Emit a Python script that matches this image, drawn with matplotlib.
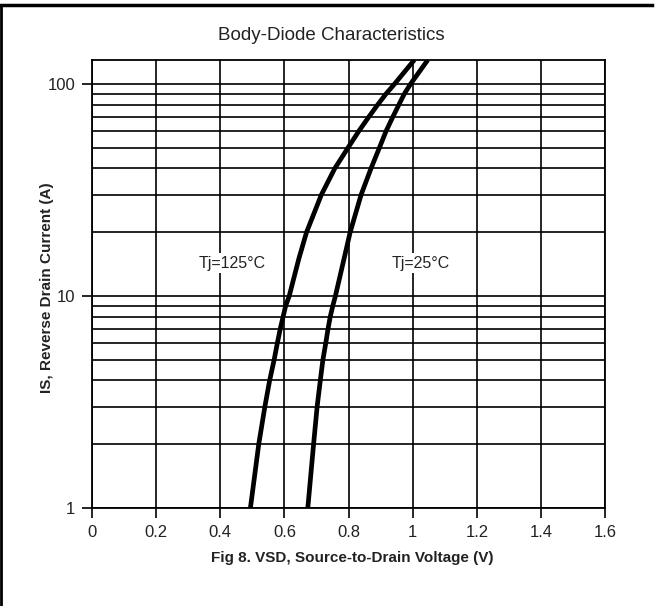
import matplotlib
matplotlib.use("Agg")
import matplotlib.pyplot as plt
from matplotlib.lines import Line2D
from matplotlib.ticker import FixedLocator, NullFormatter

FONT = ["Liberation Sans Narrow", "Liberation Sans", "DejaVu Sans"]
plt.rcParams["font.family"] = FONT

# IS values (A) read at the grid lines
i_grid = [1, 2, 3, 4, 5, 6, 7, 8, 9, 10, 15, 20, 30, 40, 50, 60, 70, 80, 90,
          100, 130]

# Tj = 125 C curve, VSD (V) at each IS
v_125 = [0.494, 0.520, 0.539, 0.554, 0.568, 0.578, 0.587, 0.596, 0.604, 0.615,
         0.645, 0.669, 0.715, 0.757, 0.798, 0.832, 0.863, 0.891, 0.917, 0.943,
         1.005]

# Tj = 25 C curve
v_25 = [0.673, 0.691, 0.702, 0.712, 0.720, 0.729, 0.736, 0.743, 0.751, 0.759,
        0.786, 0.805, 0.839, 0.870, 0.896, 0.917, 0.938, 0.957, 0.974, 0.993,
        1.047]

x_ticks = [0, 0.2, 0.4, 0.6, 0.8, 1.0, 1.2, 1.4, 1.6]
x_labels = ["0", "0.2", "0.4", "0.6", "0.8", "1", "1.2", "1.4", "1.6"]
y_ticks = [1, 10, 100]
y_labels = ["1", "10", "100"]
y_minor = [2, 3, 4, 5, 6, 7, 8, 9, 20, 30, 40, 50, 60, 70, 80, 90]

TXT = "#222222"

fig = plt.figure(figsize=(6.57, 6.06), dpi=100, facecolor="white")
ax = fig.add_axes([0.140, 0.1617, 0.781, 0.7393])

ax.set_yscale("log")
ax.set_xlim(0, 1.6)
ax.set_ylim(1, 130)

ax.plot(v_125, i_grid, color="black", linewidth=3.4, solid_joinstyle="round",
        solid_capstyle="butt", zorder=3)
ax.plot(v_25, i_grid, color="black", linewidth=3.4, solid_joinstyle="round",
        solid_capstyle="butt", zorder=3)

ax.set_xticks(x_ticks)
ax.set_xticklabels(x_labels)
ax.yaxis.set_major_locator(FixedLocator(y_ticks))
ax.set_yticklabels(y_labels)
ax.yaxis.set_minor_locator(FixedLocator(y_minor))
ax.yaxis.set_minor_formatter(NullFormatter())

ax.tick_params(which="major", direction="out", length=7, width=1.2,
               labelsize=12, labelcolor=TXT, pad=5)
ax.tick_params(axis="y", which="minor", length=0)
ax.grid(which="both", color="black", linewidth=1.2)
ax.set_axisbelow(True)
for spine in ax.spines.values():
    spine.set_linewidth(1.3)
    spine.set_color("black")

ax.text(0.436, 14.3, "Tj=125°C", fontsize=11.5, color=TXT, ha="center",
        va="center", bbox=dict(facecolor="white", edgecolor="none", pad=2),
        zorder=4)
ax.text(1.026, 14.3, "Tj=25°C", fontsize=11.5, color=TXT, ha="center",
        va="center", bbox=dict(facecolor="white", edgecolor="none", pad=2),
        zorder=4)

fig.text(0.504, 0.942, "Body-Diode Characteristics", fontsize=13.5,
         color=TXT, ha="center", va="center")
fig.text(0.536, 0.079, "Fig 8. VSD, Source-to-Drain Voltage (V)", fontsize=11,
         fontweight="bold", color=TXT, ha="center", va="center")
fig.text(0.072, 0.525, "IS, Reverse Drain Current (A)", fontsize=11,
         fontweight="bold", color=TXT, ha="center", va="center", rotation=90)

# frame lines around the figure (top and left)
fig.add_artist(Line2D([0, 0.993], [0.991, 0.991], color="black",
                      linewidth=2.5, transform=fig.transFigure))
fig.add_artist(Line2D([0.002, 0.002], [0, 0.991], color="black",
                      linewidth=2.0, transform=fig.transFigure))

fig.savefig("out.png", dpi=100, facecolor="white")
